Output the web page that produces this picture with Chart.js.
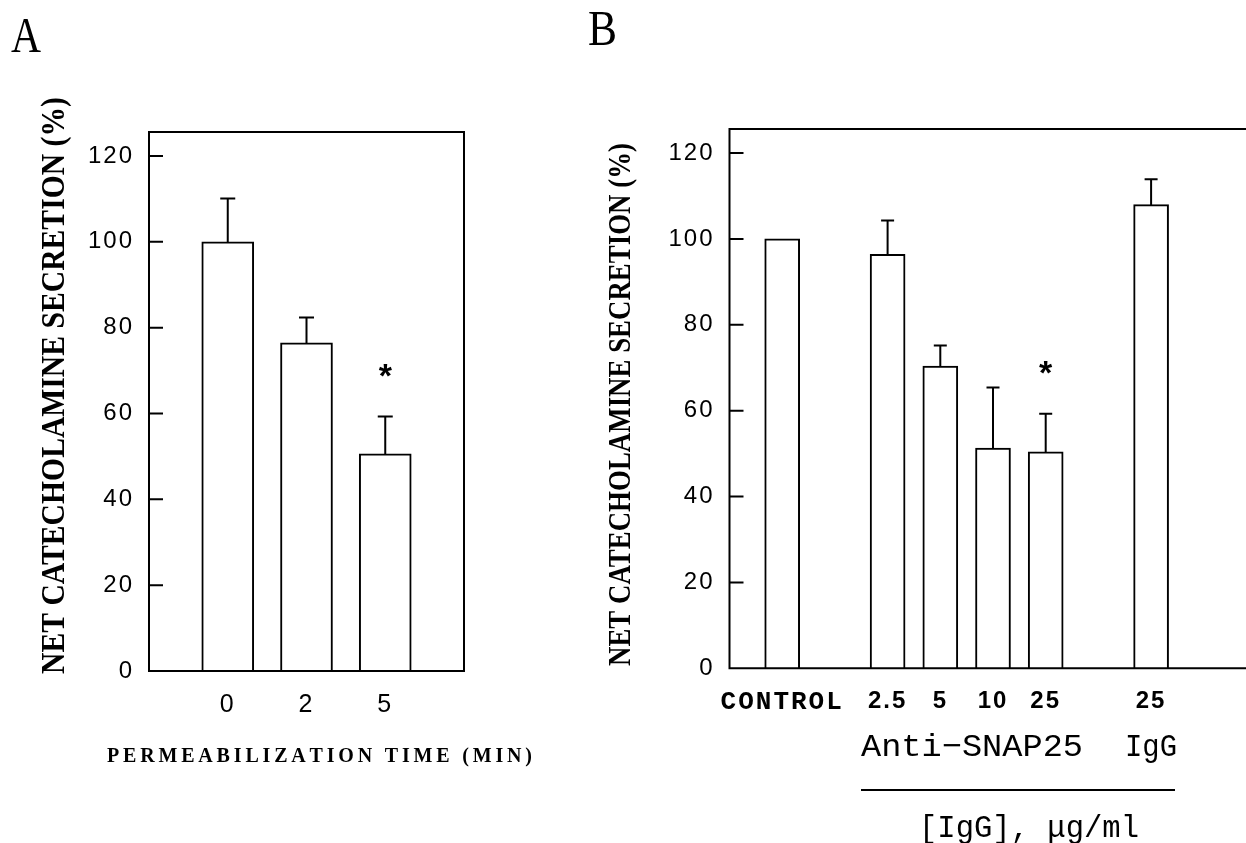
<!DOCTYPE html>
<html>
<head>
<meta charset="utf-8">
<script src="https://cdn.jsdelivr.net/npm/chart.js@4.4.1/dist/chart.umd.min.js"></script>
<style>
  html, body { margin: 0; padding: 0; background: #fff; overflow: hidden; width: 1246px; height: 843px; }
  canvas { position: absolute; top: 0; }
  #chartA { left: 0; }
  #chartB { left: 560px; }
</style>
</head>
<body>
<canvas id="chartA" width="560" height="843"></canvas>
<canvas id="chartB" width="720" height="843"></canvas>
<script>
// Panel A - secretion vs permeabilization time (empty slots pad the axis ends)
const timeLabels = ['', '0', '2', '5', ''];
const timeSecretion = [null, 100, 76.5, 50.6, null];
const timeSem = [null, 10.1, 5.9, 8.7, null];
const timeSig = [false, false, false, true, false];

// Panel B - secretion vs antibody dose
const doseLabels = ['', 'CONTROL', '', '2.5', '5', '10', '25', '', '25', '', ''];
const doseSecretion = [null, 100, null, 96.4, 70.4, 51.3, 50.4, null, 108.0, null, null];
const doseSem = [null, null, null, 7.9, 4.8, 14.1, 8.9, null, 5.9, null, null];
const doseSig = [false, false, false, false, false, false, true, false, false, false, false];

const yTicks = [0, 20, 40, 60, 80, 100, 120];
const yMax = 125.6;

const SERIF = '"Liberation Serif", "Times New Roman", serif';
const SANS = '"Liberation Sans", Arial, sans-serif';
const MONO = '"Liberation Mono", "Courier New", monospace';

// extra drawing per canvas, page coordinates
const panels = {
  chartA: {
    offsetX: 0, closed: true, cap: 13,
    values: timeSecretion, errors: timeSem, sig: timeSig,
    texts: [
      { text: 'A', x: 26, y: 35.5, size: 50, family: SERIF, width: 30 },
      { text: 'NET CATECHOLAMINE SECRETION (%)', x: 53, y: 385.5, size: 34, family: SERIF, weight: 'bold', width: 577, rotate: true },
      { text: 'PERMEABILIZATION TIME (MIN)', x: 319.5, y: 755, size: 20, family: SERIF, weight: 'bold', width: 425, spaced: true }
    ],
    lines: []
  },
  chartB: {
    offsetX: 560, closed: false, cap: 11,
    values: doseSecretion, errors: doseSem, sig: doseSig,
    texts: [
      { text: 'B', x: 602.5, y: 28.5, size: 50, family: SERIF, width: 29 },
      { text: 'NET CATECHOLAMINE SECRETION (%)', x: 619, y: 404.5, size: 32, family: SERIF, weight: 'bold', width: 523, rotate: true },
      { text: 'Anti\u2212SNAP25', x: 972, y: 745, size: 32, family: MONO, width: 222 },
      { text: 'IgG', x: 1151, y: 745, size: 32, family: MONO, width: 52 },
      { text: '[IgG], \u03bcg/ml', x: 1029, y: 826, size: 31, family: MONO, width: 220 }
    ],
    lines: [[861, 790, 1175, 790]]
  }
};

function drawText(ctx, t) {
  ctx.save();
  ctx.font = (t.weight || 'normal') + ' ' + t.size + 'px ' + t.family;
  ctx.fillStyle = '#000';
  ctx.textAlign = 'left';
  ctx.textBaseline = 'alphabetic';
  const capH = ctx.measureText('H').actualBoundingBoxAscent;
  ctx.translate(t.x, t.y);
  if (t.rotate) ctx.rotate(-Math.PI / 2);
  if (t.spaced) {
    const chars = [...t.text];
    const widths = chars.map(c => ctx.measureText(c).width);
    const gap = (t.width - widths.reduce((a, b) => a + b, 0)) / (chars.length - 1);
    let px = -t.width / 2;
    chars.forEach((c, i) => { ctx.fillText(c, px, capH / 2); px += widths[i] + gap; });
  } else {
    const natural = ctx.measureText(t.text).width;
    ctx.scale(t.width / natural, 1);
    ctx.fillText(t.text, -natural / 2, capH / 2);
  }
  ctx.restore();
}

const decor = {
  id: 'decor',
  beforeDraw(chart) {
    // the scanned figure's tick numbers are slightly letter-spaced
    chart.ctx.letterSpacing = '2px';
  },
  afterDatasetsDraw(chart) {
    const p = panels[chart.canvas.id];
    const { ctx, chartArea: a } = chart;
    const y = chart.scales.y;
    const meta = chart.getDatasetMeta(0);
    ctx.save();
    ctx.letterSpacing = '0px';
    ctx.strokeStyle = '#000';
    ctx.lineWidth = 2;
    ctx.lineCap = 'square';
    ctx.beginPath();
    // frame
    ctx.moveTo(a.left, a.bottom);
    ctx.lineTo(a.left, a.top);
    ctx.lineTo(a.right, a.top);
    if (p.closed) ctx.lineTo(a.right, a.bottom);
    ctx.moveTo(a.left, a.bottom);
    ctx.lineTo(a.right, a.bottom);
    // inward tick marks
    y.ticks.forEach((t, i) => {
      const py = y.getPixelForTick(i);
      ctx.moveTo(a.left, py);
      ctx.lineTo(a.left + 13, py);
    });
    // error bars (upper only)
    p.errors.forEach((e, i) => {
      if (e == null || p.values[i] == null) return;
      const bar = meta.data[i];
      const top = y.getPixelForValue(p.values[i] + e);
      ctx.moveTo(bar.x, bar.y);
      ctx.lineTo(bar.x, top);
      ctx.moveTo(bar.x - p.cap / 2, top);
      ctx.lineTo(bar.x + p.cap / 2, top);
    });
    ctx.stroke();
    // significance stars
    ctx.font = 'bold 34px ' + SANS;
    ctx.fillStyle = '#000';
    ctx.textAlign = 'center';
    const m = ctx.measureText('*');
    p.sig.forEach((s, i) => {
      if (!s) return;
      const bar = meta.data[i];
      const py = y.getPixelForValue(p.values[i] + (p.errors[i] || 0) + 10.8);
      ctx.fillText('*', bar.x, py + (m.actualBoundingBoxAscent - m.actualBoundingBoxDescent) / 2);
    });
    ctx.restore();
  },
  afterDraw(chart) {
    const p = panels[chart.canvas.id];
    const ctx = chart.ctx;
    ctx.save();
    ctx.letterSpacing = '0px';
    ctx.translate(-p.offsetX, 0);
    p.texts.forEach(t => drawText(ctx, t));
    ctx.strokeStyle = '#000';
    ctx.lineWidth = 2;
    p.lines.forEach(l => {
      ctx.beginPath();
      ctx.moveTo(l[0], l[1]);
      ctx.lineTo(l[2], l[3]);
      ctx.stroke();
    });
    ctx.restore();
  }
};

function makeChart(id, labels, values, barWidth, padding, xFont) {
  return new Chart(document.getElementById(id), {
    type: 'bar',
    data: {
      labels: labels,
      datasets: [{
        data: values,
        backgroundColor: '#fff',
        borderColor: '#000',
        borderWidth: 2,
        barThickness: barWidth
      }]
    },
    options: {
      responsive: false,
      animation: false,
      devicePixelRatio: 1,
      layout: { padding: padding },
      plugins: { legend: { display: false }, tooltip: { enabled: false } },
      scales: {
        x: {
          offset: false,
          grid: { display: false, drawTicks: false },
          border: { display: false },
          ticks: { color: '#000', padding: 19, maxRotation: 0, autoSkip: false, font: xFont },
          afterFit: s => { s.height = 80; }
        },
        y: {
          min: 0,
          max: yMax,
          grid: { display: false, drawTicks: false },
          border: { display: false },
          afterBuildTicks: s => { s.ticks = yTicks.map(v => ({ value: v })); },
          ticks: { color: '#000', padding: 15, font: { family: SANS, size: 24 } },
          afterFit: s => { s.width = 100; }
        }
      }
    },
    plugins: [decor]
  });
}

makeChart('chartA', timeLabels, timeSecretion, 52,
  { left: 49, right: 96, top: 132, bottom: 92 },
  { family: SANS, size: 25 });

makeChart('chartB', doseLabels, doseSecretion, 35,
  { left: 69.5, right: 23.5, top: 129, bottom: 94.7 },
  ctx => (ctx.tick && ctx.tick.label === 'CONTROL')
    ? { family: MONO, size: 26, weight: 'bold' }
    : { family: SANS, size: 24, weight: 'bold' });
</script>
</body>
</html>
